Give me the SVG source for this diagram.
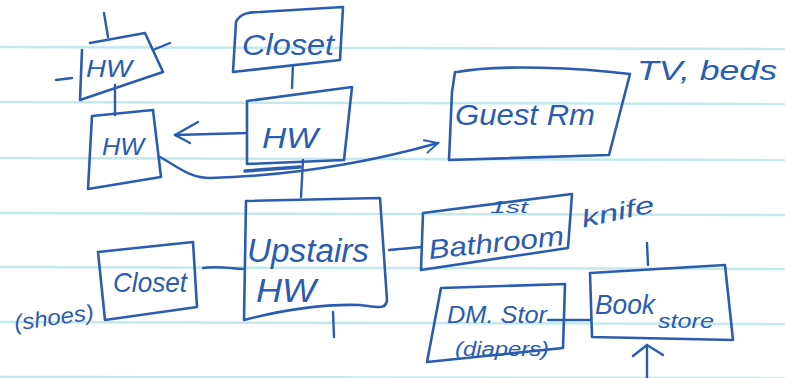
<svg xmlns="http://www.w3.org/2000/svg" width="785" height="378" viewBox="0 0 785 378">
<style>
.paper{stroke:#c4e8ec;stroke-width:2.5;fill:none}
.box{fill:none;stroke:#2a5cb0;stroke-width:2.6;stroke-linejoin:round;stroke-linecap:round}
.ln{fill:none;stroke:#2a5cb0;stroke-width:2.4;stroke-linecap:round;stroke-linejoin:round}
.t{font-family:"Liberation Sans",Arial,sans-serif;fill:#2a5cb0;font-style:italic}
</style>
<defs>
<marker id="open" viewBox="0 0 20 20" refX="18" refY="10" markerWidth="16" markerHeight="16" markerUnits="userSpaceOnUse" orient="auto">
<path d="M2,2 L18,10 L2,18" fill="none" stroke="#2a5cb0" stroke-width="2.4" stroke-linecap="round"/>
</marker>
</defs>
<rect width="785" height="378" fill="#ffffff"/>
<g id="paper">
<line class="paper" x1="0" y1="47" x2="785" y2="49"/>
<line class="paper" x1="0" y1="102" x2="785" y2="104"/>
<line class="paper" x1="0" y1="158" x2="785" y2="160"/>
<line class="paper" x1="0" y1="213" x2="785" y2="215"/>
<line class="paper" x1="0" y1="267" x2="785" y2="269"/>
<line class="paper" x1="0" y1="322" x2="785" y2="324"/>
<line class="paper" x1="0" y1="377" x2="785" y2="378"/>
</g>
<g id="connectors">
<path class="ln" d="M104,13 L108,37"/>
<path class="ln" d="M56,80 L72,78"/>
<path class="ln" d="M153,50 L170,43"/>
<path class="ln" d="M115,85 L115,115"/>
<path class="ln" d="M293,65 L292,88"/>
<path class="ln" d="M247,133 L175,135"/>
<path class="ln" d="M175,135 L198,122 M175,135 L190,143"/>
<path class="ln" d="M303,160 L301,197"/>
<path class="ln" d="M160,157 C180,168 190,178 210,178 C280,176 360,165 438,143" marker-end="url(#open)"/>
<path class="ln" d="M245,171 L300,167" style="stroke-width:3.5"/>
<path class="ln" d="M389,250 L422,247"/>
<path class="ln" d="M203,268 C215,266 228,268 243,269"/>
<path class="ln" d="M333,312 L334,337"/>
<path class="ln" d="M647,243 L648,265"/>
<path class="ln" d="M548,320 L590,320"/>
<path class="ln" d="M647,378 L647,345"/>
<path class="ln" d="M633,356 L647,345 L663,355"/>
</g>
<g id="hw-top">
<path class="box" d="M90,43 L145,33 L163,72 L80,100 L82,50"/>
<text class="t" x="86" y="77" font-size="24" textLength="46" lengthAdjust="spacingAndGlyphs">HW</text>
</g>
<g id="hw-left">
<path class="box" d="M92,116 L153,110 L161,177 L88,189 L92,116"/>
<text class="t" x="102" y="155" font-size="24" textLength="42" lengthAdjust="spacingAndGlyphs">HW</text>
</g>
<g id="closet-top">
<path class="box" d="M236,22 C240,13 250,12 260,12 L343,7 L340,60 L233,72 L236,22"/>
<text class="t" x="242" y="55" font-size="30" textLength="92" lengthAdjust="spacingAndGlyphs">Closet</text>
</g>
<g id="hw-center">
<path class="box" d="M247,101 L352,87 L344,160 L247,164 Z"/>
<text class="t" x="262" y="148" font-size="30" textLength="56" lengthAdjust="spacingAndGlyphs">HW</text>
</g>
<g id="guest-rm">
<path class="box" d="M457,72 C500,64 580,68 630,74 L609,155 L449,160 L452,92 L455,72"/>
<text class="t" x="455" y="125" font-size="30" textLength="140" lengthAdjust="spacingAndGlyphs">Guest Rm</text>
<text class="t" x="637" y="80" font-size="28" textLength="140" lengthAdjust="spacingAndGlyphs">TV, beds</text>
</g>
<g id="upstairs-hw">
<path class="box" d="M246,201 L380,198 L387,300 C386,310 378,307 360,305 C330,304 290,308 244,320 Z"/>
<text class="t" x="247" y="262" font-size="34" textLength="122" lengthAdjust="spacingAndGlyphs">Upstairs</text>
<text class="t" x="256" y="302" font-size="34" textLength="60" lengthAdjust="spacingAndGlyphs">HW</text>
</g>
<g id="closet-left">
<path class="box" d="M98,252 L193,242 L197,307 L105,320 Z"/>
<text class="t" x="113" y="292" font-size="28" textLength="74" lengthAdjust="spacingAndGlyphs">Closet</text>
<text class="t" x="14" y="325" font-size="22" textLength="80" lengthAdjust="spacingAndGlyphs" transform="rotate(-8 54 318)">(shoes)</text>
</g>
<g id="bathroom">
<path class="box" d="M423,213 L572,194 L568,248 L421,270 Z"/>
<text class="t" x="490" y="213" font-size="16" textLength="38" lengthAdjust="spacingAndGlyphs">1st</text>
<text class="t" x="428" y="252" font-size="27" textLength="136" lengthAdjust="spacingAndGlyphs" transform="rotate(-6 496 242)">Bathroom</text>
<text class="t" x="580" y="220" font-size="24" textLength="74" lengthAdjust="spacingAndGlyphs" transform="rotate(-12 617 208)">knife</text>
</g>
<g id="dm-stor">
<path class="box" d="M441,288 L565,284 L563,348 L427,362 Z"/>
<text class="t" x="447" y="323" font-size="24" textLength="100" lengthAdjust="spacingAndGlyphs">DM. Stor</text>
<text class="t" x="455" y="356" font-size="20" textLength="94" lengthAdjust="spacingAndGlyphs">(diapers)</text>
</g>
<g id="book-store">
<path class="box" d="M590,273 L725,265 L733,340 L592,337 Z"/>
<text class="t" x="595" y="314" font-size="28" textLength="60" lengthAdjust="spacingAndGlyphs">Book</text>
<text class="t" x="658" y="328" font-size="20" textLength="56" lengthAdjust="spacingAndGlyphs">store</text>
</g>
</svg>
